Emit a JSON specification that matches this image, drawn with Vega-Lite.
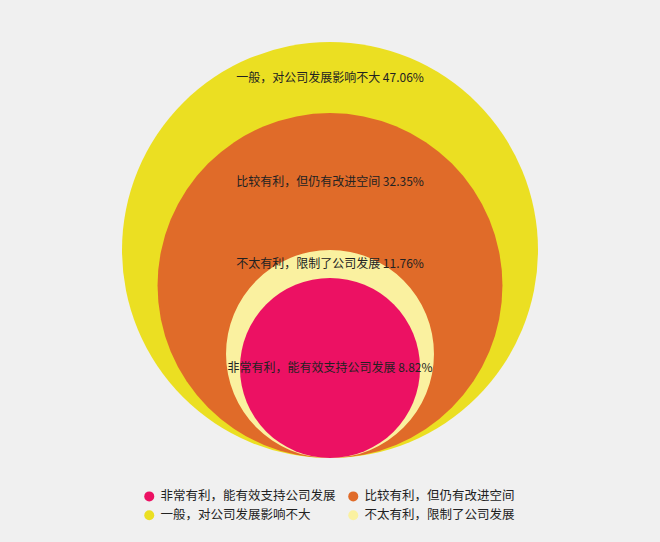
{
  "$schema": "https://vega.github.io/schema/vega-lite/v6.json",
  "width": 660,
  "height": 542,
  "autosize": "none",
  "padding": 0,
  "background": "#f0f0f0",
  "config": {"view": {"stroke": null}, "font": "Noto Sans CJK SC"},
  "data": {
    "values": [
      {"category": "一般，对公司发展影响不大", "value": 47.06},
      {"category": "比较有利，但仍有改进空间", "value": 32.35},
      {"category": "不太有利，限制了公司发展", "value": 11.76},
      {"category": "非常有利，能有效支持公司发展", "value": 8.82}
    ]
  },
  "transform": [
    {"window": [{"op": "lead", "field": "value", "as": "next"}], "sort": [{"field": "value", "order": "descending"}]},
    {"calculate": "sqrt(datum.value)", "as": "u"},
    {"calculate": "sqrt(datum.value) + (datum.next ? sqrt(datum.next) : 0)", "as": "lu"},
    {"calculate": "datum.category + ' ' + format(datum.value, '.2f') + '%'", "as": "label"}
  ],
  "layer": [
    {
      "mark": {"type": "circle", "opacity": 1, "strokeWidth": 0},
      "encoding": {
        "y": {"field": "u", "type": "quantitative", "scale": {"domain": [-2.77, 15.106], "zero": false, "nice": false}, "axis": null},
        "size": {"field": "value", "type": "quantitative", "scale": {"domain": [0, 47.06], "range": [0, 173056]}, "legend": null},
        "color": {
          "field": "category",
          "type": "nominal",
          "scale": {
            "domain": ["非常有利，能有效支持公司发展", "比较有利，但仍有改进空间", "一般，对公司发展影响不大", "不太有利，限制了公司发展"],
            "range": ["#ec1163", "#e06b29", "#ebdf22", "#faf1a0"]
          },
          "legend": {
            "title": null,
            "orient": "none",
            "direction": "horizontal",
            "legendX": 143,
            "legendY": 490,
            "columns": 2,
            "columnPadding": 11,
            "rowPadding": 6,
            "padding": 0,
            "symbolType": "circle",
            "symbolSize": 100,
            "symbolStrokeWidth": 0,
            "symbolOpacity": 1,
            "labelOffset": 5,
            "labelFontSize": 12.5,
            "labelColor": "#222222",
            "labelLimit": 300
          }
        },
        "order": {"field": "value", "sort": "descending"}
      }
    },
    {
      "mark": {"type": "text", "fontSize": 12, "color": "#222222", "baseline": "middle", "align": "center"},
      "encoding": {
        "y": {"field": "lu", "type": "quantitative", "scale": {"domain": [-2.77, 15.106], "zero": false, "nice": false}, "axis": null},
        "text": {"field": "label"}
      }
    }
  ]
}
